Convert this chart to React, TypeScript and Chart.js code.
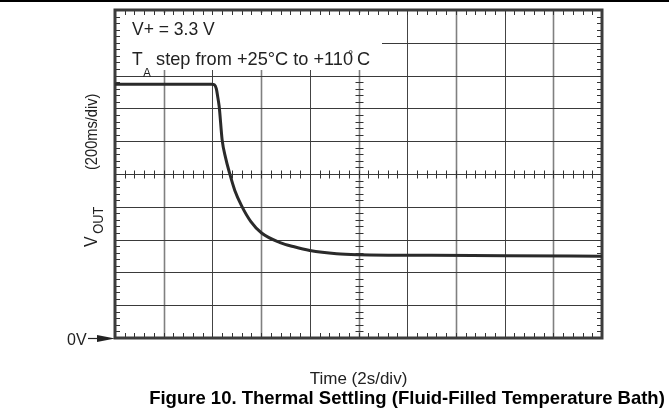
import React, { useEffect, useRef } from "react";
import { Chart, registerables } from "chart.js";

Chart.register(...registerables);

// Time in divisions (2 s/div), V_OUT in divisions (200 mV/div) above 0 V
const timeDiv = [0, 1.98, 2.04, 2.08, 2.11, 2.14, 2.2, 2.27, 2.35, 2.46, 2.6, 2.79, 3.01, 3.39, 3.68, 4.0, 4.55, 5.03, 6.5, 8, 10];
const voutDiv = [7.74, 7.74, 7.72, 7.6, 7.35, 7.05, 6.04, 5.5, 5.04, 4.5, 4.03, 3.55, 3.2, 2.91, 2.78, 2.67, 2.57, 2.54, 2.52, 2.51, 2.49];

const xDivs = [0, 1, 2, 3, 4, 5, 6, 7, 8, 9, 10];
const yDivs = [0, 1, 2, 3, 4, 5, 6, 7, 8, 9, 10];

const noteLine1 = "V+ = 3.3 V";
const noteT = "T";
const noteSub = "A";
const noteRest = " step from +25°C to +110";
const xTitle = "Time (2s/div)";
const yTitleMain = "V";
const yTitleSub = "OUT";
const yTitleRest = "(200ms/div)";
const zeroLabel = "0V";
const caption = "Figure 10. Thermal Settling (Fluid-Filled Temperature Bath)";

const FONT = "'Liberation Sans', Arial, sans-serif";

const scopePlugin = {
  id: "scope",
  beforeDatasetsDraw(chart: any) {
    const ctx = chart.ctx;
    const xs = chart.scales.x;
    const ys = chart.scales.y;
    const a = chart.chartArea;
    ctx.save();
    // grid
    xDivs.forEach((v) => {
      const px = Math.round(xs.getPixelForValue(v)) + 0.5;
      ctx.strokeStyle = v % 2 === 0 ? "#444" : "#808080";
      ctx.lineWidth = v % 2 === 0 ? 1 : 1.6;
      ctx.beginPath();
      ctx.moveTo(px, a.top);
      ctx.lineTo(px, a.bottom);
      ctx.stroke();
    });
    yDivs.forEach((v) => {
      const py = Math.round(ys.getPixelForValue(v)) + 0.5;
      ctx.strokeStyle = "#3a3a3a";
      ctx.lineWidth = 1;
      ctx.beginPath();
      ctx.moveTo(a.left, py);
      ctx.lineTo(a.right, py);
      ctx.stroke();
    });
    // center cross minor ticks
    ctx.strokeStyle = "#333";
    ctx.lineWidth = 1;
    const cx = Math.round(xs.getPixelForValue(5)) + 0.5;
    const cy = Math.round(ys.getPixelForValue(5)) + 0.5;
    for (let i = 0; i <= 50; i++) {
      const v = i / 5;
      const px = Math.round(xs.getPixelForValue(v)) + 0.5;
      const py = Math.round(ys.getPixelForValue(v)) + 0.5;
      ctx.beginPath();
      ctx.moveTo(px, cy - 4);
      ctx.lineTo(px, cy + 4);
      ctx.moveTo(cx - 4, py);
      ctx.lineTo(cx + 4, py);
      ctx.stroke();
    }
    // white note box
    ctx.fillStyle = "#fff";
    ctx.fillRect(a.left + 3, a.top + 3, 264, 57);
    // border minor ticks
    ctx.strokeStyle = "#333";
    for (let i = 0; i <= 50; i++) {
      const v = i / 5;
      const px = Math.round(xs.getPixelForValue(v)) + 0.5;
      const py = Math.round(ys.getPixelForValue(v)) + 0.5;
      ctx.beginPath();
      ctx.moveTo(px, a.top);
      ctx.lineTo(px, a.top + 5);
      ctx.moveTo(px, a.bottom);
      ctx.lineTo(px, a.bottom - 5);
      ctx.moveTo(a.left, py);
      ctx.lineTo(a.left + 5, py);
      ctx.moveTo(a.right, py);
      ctx.lineTo(a.right - 5, py);
      ctx.stroke();
    }
    // border
    ctx.strokeStyle = "#3c3c3c";
    ctx.lineWidth = 3;
    ctx.strokeRect(a.left, a.top, a.right - a.left, a.bottom - a.top);
    ctx.restore();
  },
  afterDraw(chart: any) {
    const ctx = chart.ctx;
    const a = chart.chartArea;
    const w = chart.width;
    ctx.save();
    // top rule
    ctx.fillStyle = "#000";
    ctx.fillRect(0, 0, w, 2);
    ctx.fillStyle = "#222";
    ctx.textBaseline = "alphabetic";
    // note texts
    ctx.font = `17.5px ${FONT}`;
    ctx.textAlign = "left";
    ctx.fillText(noteLine1, 132, 35);
    ctx.fillText(noteT, 132, 65);
    ctx.font = `12px ${FONT}`;
    ctx.fillText(noteSub, 143, 77);
    ctx.font = `18.2px ${FONT}`;
    const sx = 151;
    ctx.fillText(noteRest, sx, 65);
    const rw = ctx.measureText(noteRest).width;
    ctx.font = `13px ${FONT}`;
    ctx.fillText("°", sx + rw - 5, 59);
    ctx.font = `18.2px ${FONT}`;
    ctx.fillText(" C", sx + rw - 1, 65);
    // x title
    ctx.textAlign = "center";
    ctx.font = `17px ${FONT}`;
    ctx.fillText(xTitle, (a.left + a.right) / 2, 384);
    // caption
    ctx.font = `bold 18.5px ${FONT}`;
    ctx.fillStyle = "#000";
    ctx.fillText(caption, 407, 404);
    // 0V label and arrow
    ctx.fillStyle = "#222";
    ctx.font = `16px ${FONT}`;
    ctx.textAlign = "left";
    ctx.fillText(zeroLabel, 67, 345);
    const ay = Math.round(a.bottom) + 0.5;
    ctx.strokeStyle = "#222";
    ctx.lineWidth = 1.2;
    ctx.beginPath();
    ctx.moveTo(88, ay);
    ctx.lineTo(100, ay);
    ctx.stroke();
    ctx.beginPath();
    ctx.moveTo(97, ay - 3.5);
    ctx.lineTo(a.left, ay);
    ctx.lineTo(97, ay + 3.5);
    ctx.closePath();
    ctx.fill();
    // y title (rotated)
    ctx.save();
    ctx.translate(97, 247);
    ctx.rotate(-Math.PI / 2);
    ctx.scale(0.86, 1);
    ctx.textAlign = "left";
    ctx.font = `18.5px ${FONT}`;
    ctx.fillText(yTitleMain, 0, 0);
    const vw = ctx.measureText(yTitleMain).width;
    ctx.font = `15px ${FONT}`;
    ctx.fillText(yTitleSub, vw + 3, 6);
    ctx.font = `17px ${FONT}`;
    ctx.fillText(yTitleRest, 77 / 0.86, 0);
    ctx.restore();
    ctx.restore();
  },
};

export default function App() {
  const ref = useRef<HTMLCanvasElement | null>(null);
  useEffect(() => {
    if (!ref.current) return;
    const chart = new Chart(ref.current, {
      type: "line",
      data: {
        datasets: [
          {
            data: timeDiv.map((t, i) => ({ x: t, y: voutDiv[i] })),
            borderColor: "#2a2a2a",
            borderWidth: 3,
            pointRadius: 0,
            cubicInterpolationMode: "monotone",
            fill: false,
          },
        ],
      },
      options: {
        animation: false,
        responsive: true,
        maintainAspectRatio: false,
        devicePixelRatio: 1,
        layout: { padding: { left: 115, right: 67, top: 10, bottom: 74 } },
        plugins: { legend: { display: false }, tooltip: { enabled: false }, title: { display: false } },
        scales: {
          x: { type: "linear", min: 0, max: 10, display: false },
          y: { type: "linear", min: 0, max: 10, display: false },
        },
      },
      plugins: [scopePlugin],
    });
    return () => chart.destroy();
  }, []);
  return (
    <div style={{ position: "fixed", left: 0, top: 0, width: 669, height: 412, background: "#fff" }}>
      <canvas ref={ref} />
    </div>
  );
}
